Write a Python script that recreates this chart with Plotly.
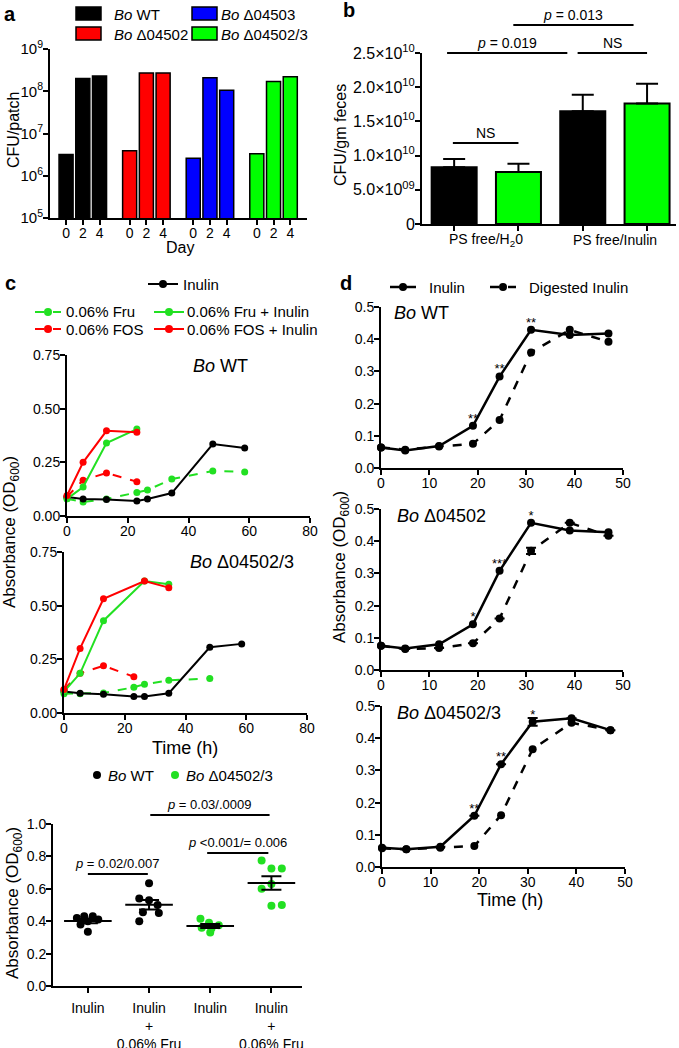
import numpy as np
import plotly.graph_objects as go

W, H = 679, 1048
FONT = "Liberation Sans, Arial, Helvetica, sans-serif"
BLACK = "#000000"
RED = "#ff0000"
BLUE = "#0000ff"
GREEN_BAR = "#00ff00"
GREEN = "#22e022"


def fx(px):
    return px / W


def fy(py):
    return 1 - py / H


# ---------------- Panel a data ----------------
a_strains = ["<i>Bo</i> WT", "<i>Bo</i> Δ04502", "<i>Bo</i> Δ04503", "<i>Bo</i> Δ04502/3"]
a_days = ["0", "2", "4"]
a_cfu_wt = [3.2e6, 2.0e8, 2.3e8]
a_cfu_d04502 = [3.9e6, 2.7e8, 2.7e8]
a_cfu_d04503 = [2.6e6, 2.1e8, 1.05e8]
a_cfu_d045023 = [3.3e6, 1.7e8, 2.2e8]
a_yticks = [1e5, 1e6, 1e7, 1e8, 1e9]

# ---------------- Panel b data ----------------
b_groups = ["PS free/H<sub>2</sub>0", "PS free/Inulin"]
b_wt = [8.3e9, 1.65e10]
b_wt_err = [1.2e9, 2.4e9]
b_mut = [7.6e9, 1.76e10]
b_mut_err = [1.2e9, 2.9e9]
b_yticks = [0, 5e9, 1e10, 1.5e10, 2e10, 2.5e10]
b_yticktext = ["0", "5.0×10<sup>09</sup>", "1.0×10<sup>10</sup>", "1.5×10<sup>10</sup>",
               "2.0×10<sup>10</sup>", "2.5×10<sup>10</sup>"]

# ---------------- Panel c data (time courses) ----------------
c_wt_inulin_t = [0, 5.3, 13, 23, 26.5, 34.5, 48, 58.5]
c_wt_inulin = [0.088, 0.079, 0.077, 0.070, 0.079, 0.107, 0.335, 0.317]
c_wt_fru_t = [0, 5.3, 13, 23, 26.5, 34.5, 48, 58.5]
c_wt_fru = [0.08, 0.065, 0.079, 0.11, 0.121, 0.172, 0.21, 0.205]
c_wt_fos_t = [0, 5.3, 13, 23]
c_wt_fos = [0.09, 0.167, 0.20, 0.16]
c_wt_fru_inulin_t = [0, 5.3, 13, 23]
c_wt_fru_inulin = [0.08, 0.135, 0.34, 0.405]
c_wt_fos_inulin_t = [0, 5.3, 13, 23]
c_wt_fos_inulin = [0.095, 0.25, 0.397, 0.39]

c_mut_inulin_t = [0, 5.3, 13, 23, 26.5, 34.5, 48, 58.5]
c_mut_inulin = [0.10, 0.092, 0.087, 0.077, 0.077, 0.092, 0.306, 0.322]
c_mut_fru_t = [0, 5.3, 13, 23, 26.5, 34.5, 48]
c_mut_fru = [0.09, 0.09, 0.093, 0.12, 0.134, 0.152, 0.161]
c_mut_fos_t = [0, 5.3, 13, 23]
c_mut_fos = [0.11, 0.185, 0.22, 0.169]
c_mut_fru_inulin_t = [0, 5.3, 13, 26.5, 34.5]
c_mut_fru_inulin = [0.10, 0.185, 0.43, 0.615, 0.60]
c_mut_fos_inulin_t = [0, 5.3, 13, 26.5, 34.5]
c_mut_fos_inulin = [0.11, 0.301, 0.532, 0.615, 0.584]

# ---------------- Panel c data (dot plot) ----------------
c3_labels = ["Inulin", "Inulin<br>+<br>0.06% Fru", "Inulin", "Inulin<br>+<br>0.06% Fru"]
c3_wt_inulin = [0.42, 0.43, 0.43, 0.41, 0.40, 0.38, 0.335]
c3_wt_fru = [0.635, 0.54, 0.53, 0.50, 0.455, 0.45, 0.40]
c3_mut_inulin = [0.415, 0.39, 0.375, 0.36, 0.355, 0.33]
c3_mut_fru = [0.775, 0.725, 0.725, 0.63, 0.60, 0.50, 0.495]
c3_jitter = [
    [-0.18, -0.06, 0.08, 0.17, 0.0, -0.12, 0.0],
    [0.0, -0.16, 0.0, 0.14, -0.1, 0.16, -0.16],
    [-0.16, -0.02, 0.14, -0.14, 0.02, 0.0],
    [-0.16, 0.0, 0.17, 0.0, -0.16, 0.17, 0.0],
]

# ---------------- Panel d data ----------------
d_t = [0, 5, 12, 19, 24.5, 31, 39, 47]
d_wt_inulin = [0.064, 0.054, 0.068, 0.131, 0.284, 0.429, 0.413, 0.418]
d_wt_digested = [0.064, 0.057, 0.067, 0.075, 0.149, 0.359, 0.429, 0.392]
d_wt_stars = ["", "", "", "**", "**", "**", "", ""]
d_d04502_inulin = [0.075, 0.067, 0.080, 0.142, 0.308, 0.457, 0.433, 0.428]
d_d04502_digested = [0.075, 0.065, 0.068, 0.083, 0.160, 0.370, 0.457, 0.417]
d_d04502_dig_err = [0, 0, 0, 0, 0, 0.01, 0, 0]
d_d04502_stars = ["", "", "", "*", "***", "*", "", ""]
d_d045023_inulin = [0.060, 0.055, 0.063, 0.159, 0.319, 0.451, 0.462, 0.425]
d_d045023_inu_err = [0, 0, 0, 0, 0, 0.012, 0, 0]
d_d045023_digested = [0.058, 0.055, 0.060, 0.065, 0.161, 0.366, 0.448, 0.425]
d_d045023_stars = ["", "", "", "**", "**", "*", "", ""]

fig = go.Figure()
shapes = []
annotations = []


def text(x, y, s, size=14, xanchor="center", yanchor="middle", xref="paper", yref="paper",
         angle=0, color=BLACK):
    annotations.append(dict(x=x, y=y, xref=xref, yref=yref, text=s, showarrow=False,
                            xanchor=xanchor, yanchor=yanchor, textangle=angle,
                            font=dict(family=FONT, size=size, color=color)))


def hline(x0, x1, ypx, xref="paper", width=2, color=BLACK, dash="solid"):
    shapes.append(dict(type="line", xref=xref, yref="paper", x0=x0, x1=x1, y0=fy(ypx), y1=fy(ypx),
                       line=dict(color=color, width=width, dash=dash)))


def dot(xpx, ypx, color, r=4):
    shapes.append(dict(type="circle", xref="paper", yref="paper", xsizemode="pixel",
                       ysizemode="pixel", xanchor=fx(xpx), yanchor=fy(ypx),
                       x0=-r, x1=r, y0=-r, y1=r, fillcolor=color, line=dict(color=color, width=0)))


def box(x0, x1, y0, y1, color):
    shapes.append(dict(type="rect", xref="paper", yref="paper", x0=fx(x0), x1=fx(x1),
                       y0=fy(y1), y1=fy(y0), fillcolor=color, line=dict(color=BLACK, width=1.5)))


def axis_style(**kw):
    d = dict(showline=True, linecolor=BLACK, linewidth=2, ticks="outside", ticklen=5,
             tickwidth=2, tickcolor=BLACK, showgrid=False, zeroline=False, automargin=False,
             tickfont=dict(family=FONT, size=14, color=BLACK), fixedrange=True)
    d.update(kw)
    return d


def xaxis_style(standoff=-4, **kw):
    return axis_style(ticklabelstandoff=standoff, **kw)


def yaxis_style(**kw):
    return axis_style(ticklabelstandoff=-3, **kw)


# ---------------- Panel a ----------------
A_GROUP_STEP = 3.8
a_colors = [BLACK, RED, BLUE, GREEN_BAR]
a_values = [a_cfu_wt, a_cfu_d04502, a_cfu_d04503, a_cfu_d045023]
a_tickvals, a_ticktext = [], []
for g, (name, col, vals) in enumerate(zip(a_strains, a_colors, a_values)):
    xs = [g * A_GROUP_STEP + i for i in range(len(a_days))]
    a_tickvals += xs
    a_ticktext += a_days
    fig.add_trace(go.Bar(x=xs, y=vals, width=0.84, name=name, showlegend=False,
                         marker=dict(color=col, line=dict(color=BLACK, width=1.5)),
                         xaxis="x", yaxis="y"))

# legend a
box(76, 101, 7, 20, BLACK)
box(76, 101, 27, 40, RED)
box(192, 217, 7, 20, BLUE)
box(192, 217, 27, 40, GREEN_BAR)
text(fx(112), fy(14), a_strains[0], size=15, xanchor="left")
text(fx(112), fy(34), a_strains[1], size=15, xanchor="left")
text(fx(219), fy(14), a_strains[2], size=15, xanchor="left")
text(fx(219), fy(34), a_strains[3], size=15, xanchor="left")
text(fx(14), fy(130), "CFU/patch", size=16, angle=-90)
text(fx(180), fy(247), "Day", size=16)
text(fx(10), fy(14), "<b>a</b>", size=20)

# ---------------- Panel b ----------------
b_x_wt = [2 * j for j in range(len(b_groups))]
b_x_mut = [2 * j + 1 for j in range(len(b_groups))]
for xs, vals, errs, col in [(b_x_wt, b_wt, b_wt_err, BLACK), (b_x_mut, b_mut, b_mut_err, GREEN_BAR)]:
    fig.add_trace(go.Bar(x=xs, y=vals, width=0.7, showlegend=False,
                         marker=dict(color=col, line=dict(color=BLACK, width=2)),
                         error_y=dict(type="data", symmetric=False, array=errs,
                                      arrayminus=[0] * len(errs), color=BLACK, thickness=2, width=11),
                         xaxis="x2", yaxis="y2"))
for j, g in enumerate(b_groups):
    text(2 * j + 0.5, fy(240), g, size=14, xref="x2")
b_sig = [(-0.02, 1.0, 143, "NS"), (-0.11, 1.76, 53, "<i>p</i> = 0.019"),
         (1.92, 3.0, 53, "NS"), (0.92, 2.79, 25, "<i>p</i> = 0.013")]
for x0, x1, ypx, lab in b_sig:
    hline(x0, x1, ypx, xref="x2")
    text((x0 + x1) / 2, fy(ypx - 10), lab, size=14, xref="x2")
text(fx(341), fy(135), "CFU/gm feces", size=16, angle=-90)
text(fx(349), fy(10), "<b>b</b>", size=20)

# ---------------- Panel c time courses ----------------
def c_line(t, v, color, dash, ax):
    fig.add_trace(go.Scatter(x=t, y=v, mode="lines+markers", showlegend=False, cliponaxis=False,
                             line=dict(color=color, width=2, dash=dash),
                             marker=dict(color=color, size=7), xaxis="x" + ax, yaxis="y" + ax))


for ax, series in [("3", [(c_wt_fru_t, c_wt_fru, GREEN, "dash"), (c_wt_fos_t, c_wt_fos, RED, "dash"),
                          (c_wt_inulin_t, c_wt_inulin, BLACK, "solid"),
                          (c_wt_fru_inulin_t, c_wt_fru_inulin, GREEN, "solid"),
                          (c_wt_fos_inulin_t, c_wt_fos_inulin, RED, "solid")]),
                   ("4", [(c_mut_fru_t, c_mut_fru, GREEN, "dash"), (c_mut_fos_t, c_mut_fos, RED, "dash"),
                          (c_mut_inulin_t, c_mut_inulin, BLACK, "solid"),
                          (c_mut_fru_inulin_t, c_mut_fru_inulin, GREEN, "solid"),
                          (c_mut_fos_inulin_t, c_mut_fos_inulin, RED, "solid")])]:
    for t, v, col, dash in series:
        c_line(t, v, col, dash, ax)

# legend c
hline(fx(148), fx(178), 284)
dot(163, 284, BLACK)
text(fx(181), fy(284), "Inulin", size=15, xanchor="left")
for ypx, col, dash_lab, solid_lab in [(312, GREEN, "0.06% Fru", "0.06% Fru + Inulin"),
                                     (329, RED, "0.06% FOS", "0.06% FOS + Inulin")]:
    hline(fx(35), fx(61), ypx, color=col, dash="dash")
    dot(48, ypx, col)
    text(fx(64), fy(ypx), dash_lab, size=15, xanchor="left")
    hline(fx(154), fx(184), ypx, color=col)
    dot(169, ypx, col)
    text(fx(185), fy(ypx), solid_lab, size=15, xanchor="left")
text(fx(220), fy(366), "<i>Bo</i> WT", size=18)
text(fx(242), fy(562), "<i>Bo</i> Δ04502/3", size=18)
text(fx(11), fy(532), "Absorbance (OD<sub>600</sub>)", size=17, angle=-90)
text(fx(185), fy(748), "Time (h)", size=18)
text(fx(10), fy(283), "<b>c</b>", size=20)

# ---------------- Panel c dot plot ----------------
c3_groups = [c3_wt_inulin, c3_wt_fru, c3_mut_inulin, c3_mut_fru]
c3_colors = [BLACK, BLACK, GREEN, GREEN]
for k, (vals, jit, col) in enumerate(zip(c3_groups, c3_jitter, c3_colors)):
    fig.add_trace(go.Scatter(x=[k + j for j in jit], y=vals, mode="markers", showlegend=False,
                             cliponaxis=False, marker=dict(color=col, size=8),
                             xaxis="x5", yaxis="y5"))
    arr = np.array(vals)
    mean = float(arr.mean())
    sem = float(arr.std(ddof=1) / np.sqrt(len(arr)))
    fig.add_trace(go.Scatter(x=[k], y=[mean], mode="markers", showlegend=False, cliponaxis=False,
                             marker=dict(symbol="line-ew", size=34, color=BLACK,
                                         line=dict(color=BLACK, width=2)),
                             error_y=dict(type="data", array=[sem], color=BLACK, thickness=2, width=10),
                             xaxis="x5", yaxis="y5"))
c3_sig = [(0, 0.98, 874, "<i>p</i> = 0.02/0.007"), (1.95, 2.95, 853, "<i>p</i> <0.001/= 0.006"),
          (1.02, 2.97, 815, "<i>p</i> = 0.03/.0009")]
for x0, x1, ypx, lab in c3_sig:
    hline(x0, x1, ypx, xref="x5")
    text((x0 + x1) / 2, fy(ypx - 11), lab, size=13, xref="x5")
dot(97, 775, BLACK)
text(fx(106), fy(775), "<i>Bo</i> WT", size=15, xanchor="left")
dot(175, 775, GREEN)
text(fx(184), fy(775), "<i>Bo</i> Δ04502/3", size=15, xanchor="left")
text(fx(14), fy(903), "Absorbance (OD<sub>600</sub>)", size=17, angle=-90)

# ---------------- Panel d ----------------
d_sets = [("6", d_wt_inulin, None, d_wt_digested, None, d_wt_stars),
          ("7", d_d04502_inulin, None, d_d04502_digested, d_d04502_dig_err, d_d04502_stars),
          ("8", d_d045023_inulin, d_d045023_inu_err, d_d045023_digested, None, d_d045023_stars)]
for ax, inu, inu_err, dig, dig_err, stars in d_sets:
    for vals, err, dash in [(dig, dig_err, "dash"), (inu, inu_err, "solid")]:
        fig.add_trace(go.Scatter(x=d_t, y=vals, mode="lines+markers", showlegend=False,
                                 cliponaxis=False, line=dict(color=BLACK, width=2.5, dash=dash),
                                 marker=dict(color=BLACK, size=8),
                                 error_y=dict(type="data", array=err, color=BLACK, thickness=2,
                                              width=5, visible=err is not None),
                                 xaxis="x" + ax, yaxis="y" + ax))
    keep = [i for i, s in enumerate(stars) if s]
    fig.add_trace(go.Scatter(x=[d_t[i] for i in keep], y=[inu[i] for i in keep], mode="text",
                             text=[stars[i] for i in keep], textposition="top center",
                             showlegend=False, cliponaxis=False,
                             textfont=dict(family=FONT, size=13, color=BLACK),
                             xaxis="x" + ax, yaxis="y" + ax))

hline(fx(390), fx(416), 287, width=2.5)
dot(403, 287, BLACK)
text(fx(427), fy(287), "Inulin", size=15, xanchor="left")
hline(fx(490), fx(516), 287, width=2.5, dash="dash")
dot(503, 287, BLACK)
text(fx(527), fy(287), "Digested Inulin", size=15, xanchor="left")
text(fx(392), fy(313), "<i>Bo</i> WT", size=18, xanchor="left")
text(fx(395), fy(516), "<i>Bo</i> Δ04502", size=18, xanchor="left")
text(fx(395), fy(713), "<i>Bo</i> Δ04502/3", size=18, xanchor="left")
text(fx(341), fy(567), "Absorbance (OD<sub>600</sub>)", size=17, angle=-90)
text(fx(510), fy(900), "Time (h)", size=18)
text(fx(346), fy(283), "<b>d</b>", size=20)

# ---------------- Layout ----------------
lay = dict(
    width=W, height=H, margin=dict(l=0, r=0, t=0, b=0, pad=0, autoexpand=False),
    paper_bgcolor="white", plot_bgcolor="white", showlegend=False,
    font=dict(family=FONT, color=BLACK), bargap=0,
    xaxis=xaxis_style(domain=[fx(50), fx(307)], range=[-0.96, 14.4], anchor="y",
                      tickvals=a_tickvals, ticktext=a_ticktext),
    yaxis=yaxis_style(domain=[fy(218), fy(49)], type="log", range=[5, 9], anchor="x",
                      tickvals=a_yticks, tickfont=dict(family=FONT, size=15, color=BLACK),
                      ticktext=["10<sup>%d</sup>" % round(np.log10(v)) for v in a_yticks]),
    xaxis2=xaxis_style(domain=[fx(422), fx(676)], range=[-0.5, 3.45], anchor="y2",
                       tickvals=b_x_wt + b_x_mut, showticklabels=False),
    yaxis2=yaxis_style(domain=[fy(224), fy(53)], range=[0, 2.5e10], anchor="x2",
                       tickvals=b_yticks, ticktext=b_yticktext,
                       tickfont=dict(family=FONT, size=16, color=BLACK)),
    xaxis3=xaxis_style(domain=[fx(67), fx(310)], range=[0, 80], anchor="y3", dtick=20),
    yaxis3=yaxis_style(domain=[fy(516), fy(355)], range=[0, 0.75], anchor="x3", dtick=0.25,
                       tickformat=".2f"),
    xaxis4=xaxis_style(domain=[fx(64), fx(307)], range=[0, 80], anchor="y4", dtick=20),
    yaxis4=yaxis_style(domain=[fy(713), fy(552)], range=[0, 0.75], anchor="x4", dtick=0.25,
                       tickformat=".2f"),
    xaxis5=xaxis_style(standoff=3, domain=[fx(53), fx(302)], range=[-0.57, 3.5], anchor="y5",
                       tickvals=list(range(len(c3_labels))), ticktext=c3_labels),
    yaxis5=yaxis_style(domain=[fy(986), fy(824)], range=[0, 1.0], anchor="x5", dtick=0.2,
                       tickformat=".1f"),
)
for ax, (top, bot, x0, x1) in zip(["6", "7", "8"], [(307, 468, 381, 623), (509, 670, 381, 623),
                                                    (706, 867, 382, 625)]):
    lay["xaxis" + ax] = xaxis_style(domain=[fx(x0), fx(x1)], range=[0, 50], anchor="y" + ax, dtick=10)
    lay["yaxis" + ax] = yaxis_style(domain=[fy(bot), fy(top)], range=[0, 0.5], anchor="x" + ax,
                                    dtick=0.1, tickformat=".1f")
lay["shapes"] = shapes
lay["annotations"] = annotations
fig.update_layout(**lay)
fig.write_html("out.html", config={"displayModeBar": False, "staticPlot": True},
               post_script="document.body.style.margin='0';document.body.style.overflow='hidden';")
